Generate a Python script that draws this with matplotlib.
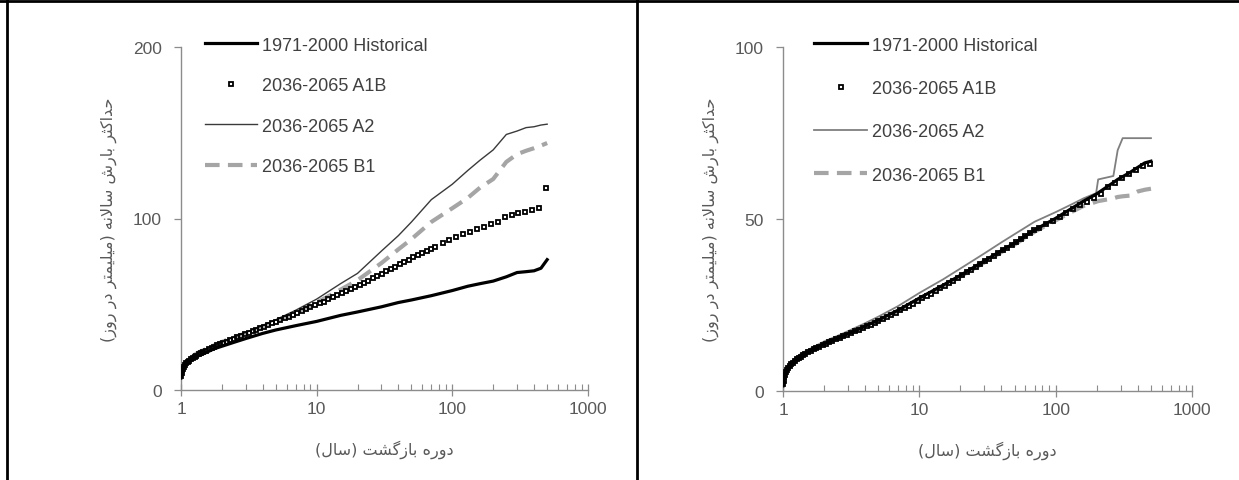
import matplotlib
matplotlib.use("Agg")
import matplotlib.pyplot as plt
from matplotlib.lines import Line2D

# ---- data (return period in years, value in mm/day) ----
t_left = [1.0, 1.02, 1.05, 1.1, 1.2, 1.35, 1.5, 1.75, 2, 2.5, 3, 4, 5, 7, 10, 15, 20,
          30, 40, 50, 70, 100, 130, 160, 200, 250, 300, 350, 400, 450, 500]
hist_left = [7, 10, 13, 15.5, 17.5, 20, 21.5, 24, 25.5, 28, 30, 33, 35, 37.5, 40, 43.5,
             45.5, 48.5, 51, 52.5, 55, 58, 60.5, 62, 63.5, 66, 68.5, 69, 69.5, 71, 76]
a2_left = [9, 12, 15, 17, 19.5, 22, 23.5, 26, 28, 31, 33.5, 37.5, 41, 46.5, 53, 62, 68,
           81, 90, 98, 111, 120, 128, 134, 140, 149, 151, 153, 153.5, 154.5, 155]
b1_left = [9, 12, 15, 17, 19.5, 22, 23.5, 26, 28, 31, 33, 37, 40, 45, 51, 58.5, 64,
           74, 82, 88, 98, 106, 112, 118, 123, 133, 137.5, 139.5, 141, 142.5, 144]

t_right = [1.0, 1.02, 1.05, 1.1, 1.2, 1.35, 1.5, 1.75, 2, 2.5, 3, 4, 5, 7, 10, 15, 20,
           30, 40, 50, 70, 100, 130, 160, 198, 205, 265, 285, 310, 350, 400, 450, 500]
hist_right = [1.5, 4, 5.5, 7, 8.7, 10.2, 11.2, 12.5, 13.7, 15.3, 16.6, 18.8, 20.6, 23.5,
              27, 30.8, 33.6, 37.8, 40.8, 43, 46.8, 50.2, 53, 55.2, 57.2, 57.6, 60.6,
              61.5, 62.3, 63.5, 65, 66.3, 66.8]
a2_right = [2.5, 4.5, 6, 7.5, 9.2, 10.8, 11.8, 13.2, 14.4, 16.0, 17.4, 19.7, 21.6, 24.7,
            28.5, 32.5, 35.6, 40.0, 43.2, 45.6, 49.2, 52.0, 54.2, 56.0, 57.5, 61.5, 62.5,
            70.0, 73.5, 73.5, 73.5, 73.5, 73.5]
b1_right = [1.5, 4, 5.5, 7, 8.7, 10.2, 11.2, 12.5, 13.6, 15.2, 16.5, 18.7, 20.4, 23.3,
            26.7, 30.5, 33.3, 37.4, 40.4, 42.6, 46.3, 49.6, 52.0, 53.8, 55.0, 55.2, 56.0,
            56.4, 56.6, 56.8, 58.0, 58.5, 58.8]

# A1B is drawn as markers only, so it needs more points
t_a1b = [1.0, 1.01, 1.02, 1.03, 1.05, 1.07, 1.09, 1.12, 1.15, 1.18, 1.22, 1.26, 1.3,
         1.35, 1.4, 1.46, 1.52, 1.6, 1.68, 1.76, 1.85, 1.95, 2.05,
         2.17, 2.3, 2.45, 2.6, 2.77, 2.95, 3.15, 3.37, 3.6, 3.85, 4.1,
         4.4, 4.7, 5.0, 5.4, 5.8, 6.2, 6.7, 7.2, 7.8, 8.4, 9.0, 9.7,
         10.5, 11.3, 12.2, 13.2, 14.2, 15.3, 16.5, 17.8, 19.2, 20.7,
         22.3, 24.1, 26.0, 28.0, 30.2, 32.6, 35.2, 38.0, 41.0, 44.2,
         47.7, 51.5, 55.5, 60.0, 64.7, 69.8,
         75, 85, 95, 107, 120, 135, 152, 171, 192, 216, 243, 273, 307, 345, 388, 435, 493]
a1b_left = [8, 10, 11.5, 12.5, 13.5, 14.5, 15.5, 16.5, 17.2, 17.8, 18.6, 19.3, 20.0,
            20.7, 21.4, 22.2, 22.9, 23.7, 24.5, 25.2, 26.0, 26.7, 27.4,
            28.2, 29.0, 29.9, 30.7, 31.5, 32.4, 33.3, 34.2, 35.1, 36.0, 36.9,
            37.9, 38.8, 39.8, 40.8, 41.8, 42.8, 43.9, 44.9, 46.0, 47.1, 48.2, 49.3,
            50.5, 51.6, 52.8, 54.0, 55.2, 56.4, 57.6, 58.8, 60.0, 61.2,
            62.5, 63.8, 65.1, 66.4, 67.8, 69.1, 70.5, 71.8, 73.2, 74.6,
            76.0, 77.4, 78.7, 80.0, 81.3, 82.5,
            83.6, 85.6, 87.3, 89.0, 90.7, 92.2, 93.6, 94.8, 96.6, 98.0, 101.0, 102.0,
            103.0, 104.0, 104.8, 106.0, 117.5]
a1b_right = [2.0, 3.0, 4.0, 4.6, 5.5, 6.1, 6.7, 7.3, 7.8, 8.2, 8.7, 9.2, 9.6,
             10.0, 10.4, 10.8, 11.2, 11.7, 12.1, 12.5, 12.9, 13.3, 13.7,
             14.1, 14.5, 15.0, 15.4, 15.9, 16.3, 16.8, 17.3, 17.8, 18.3, 18.8,
             19.3, 19.8, 20.4, 21.0, 21.6, 22.2, 22.8, 23.5, 24.1, 24.8, 25.4, 26.1,
             26.9, 27.6, 28.3, 29.1, 29.8, 30.5, 31.3, 32.1, 32.9, 33.7,
             34.5, 35.3, 36.1, 36.9, 37.7, 38.5, 39.3, 40.1, 40.9, 41.7,
             42.5, 43.4, 44.2, 45.1, 46.0, 46.8,
             47.5, 48.6, 49.4, 50.5, 51.8, 53.0, 54.0, 55.0, 56.0, 57.4, 59.3, 60.6,
             61.8, 63.0, 64.3, 65.5, 66.0]

labels = ["1971-2000 Historical", "2036-2065 A1B", "2036-2065 A2", "2036-2065 B1"]
xlabel = "دوره بازگشت (سال)"
ylabel = "حداکثر بارش سالانه (میلیمتر در روز)"

# ---- tiny Persian shaper: matplotlib does not join Arabic letters by itself ----
# letter: (isolated, final, initial, medial)
FORMS = {
    'ا': ('\uFE8D', '\uFE8E', None, None),
    'ب': ('\uFE8F', '\uFE90', '\uFE91', '\uFE92'),
    'ت': ('\uFE95', '\uFE96', '\uFE97', '\uFE98'),
    'ث': ('\uFE99', '\uFE9A', '\uFE9B', '\uFE9C'),
    'ح': ('\uFEA1', '\uFEA2', '\uFEA3', '\uFEA4'),
    'د': ('\uFEA9', '\uFEAA', None, None),
    'ر': ('\uFEAD', '\uFEAE', None, None),
    'ز': ('\uFEAF', '\uFEB0', None, None),
    'س': ('\uFEB1', '\uFEB2', '\uFEB3', '\uFEB4'),
    'ش': ('\uFEB5', '\uFEB6', '\uFEB7', '\uFEB8'),
    'ل': ('\uFEDD', '\uFEDE', '\uFEDF', '\uFEE0'),
    'م': ('\uFEE1', '\uFEE2', '\uFEE3', '\uFEE4'),
    'ن': ('\uFEE5', '\uFEE6', '\uFEE7', '\uFEE8'),
    'ه': ('\uFEE9', '\uFEEA', '\uFEEB', '\uFEEC'),
    'و': ('\uFEED', '\uFEEE', None, None),
    'ک': ('\uFB8E', '\uFB8F', '\uFB90', '\uFB91'),
    'گ': ('\uFB92', '\uFB93', '\uFB94', '\uFB95'),
    'ی': ('\uFBFC', '\uFBFD', '\uFBFE', '\uFBFF'),
}
MIRROR = {'(': ')', ')': '('}


def shape_fa(text):
    out = []
    i = 0
    while i < len(text):
        ch = text[i]
        if ch not in FORMS:
            out.append(MIRROR.get(ch, ch))
            i += 1
            continue
        prev = text[i-1] if i > 0 else ''
        nxt = text[i+1] if i + 1 < len(text) else ''
        joins_prev = prev in FORMS and FORMS[prev][2] is not None
        if ch == 'ل' and nxt == 'ا':
            out.append('\uFEFC' if joins_prev else '\uFEFB')
            i += 2
            continue
        joins_next = FORMS[ch][2] is not None and nxt in FORMS
        iso, fin, ini, med = FORMS[ch]
        if joins_prev and joins_next:
            out.append(med)
        elif joins_prev:
            out.append(fin)
        elif joins_next:
            out.append(ini)
        else:
            out.append(iso)
        i += 1
    return ''.join(reversed(out))


plt.rcParams['font.family'] = ['Liberation Sans', 'DejaVu Sans']

W, H = 1239, 481
fig = plt.figure(figsize=(W/100, H/100), dpi=100)

ax1 = fig.add_axes([181/W, (H-391)/H, 407/W, 343/H])
ax2 = fig.add_axes([783/W, (H-392)/H, 409/W, 344/H])

tick_col = '#595959'
spine_col = '#8c8c8c'

# ax, x grid, hist, A2, B1, A1B, ymax, yticks, A2 colour, A2 width, legend x, legend spacing
panels = [
    (ax1, t_left, hist_left, a2_left, b1_left, a1b_left, 200, [0, 100, 200],
     '#3a3a3a', 1.0, 0.058, 1.30),
    (ax2, t_right, hist_right, a2_right, b1_right, a1b_right, 100, [0, 50, 100],
     '#7f7f7f', 1.3, 0.077, 1.46),
]

for ax, t, hist, a2, b1, a1b, ymax, yticks, a2col, a2lw, legx, legsp in panels:
    ax.plot(t, hist, color='black', lw=2.3, label=labels[0], zorder=4)
    ax.plot(t_a1b, a1b, ls='none', marker='s', ms=3.1, mfc='none', mec='black',
            mew=1.3, label=labels[1], zorder=5)
    ax.plot(t, a2, color=a2col, lw=a2lw, label=labels[2], zorder=3)
    ax.plot(t, b1, color='#a5a5a5', lw=3.0, ls=(0, (3.5, 2.0)), label=labels[3], zorder=2)

    ax.set_xscale('log')
    ax.set_xlim(1, 1000)
    ax.set_ylim(0, ymax)
    ax.set_xticks([1, 10, 100, 1000])
    ax.set_xticklabels(['1', '10', '100', '1000'])
    ax.set_yticks(yticks)
    ax.set_yticklabels([str(v) for v in yticks])

    for s in ['top', 'right']:
        ax.spines[s].set_visible(False)
    for s in ['left', 'bottom']:
        ax.spines[s].set_color(spine_col)
        ax.spines[s].set_linewidth(1.0)

    ax.tick_params(axis='x', which='major', direction='inout', length=8, width=0.9,
                   color=spine_col, labelcolor=tick_col, labelsize=12.5, pad=4)
    ax.tick_params(axis='x', which='minor', direction='in', length=4, width=0.8,
                   color=spine_col)
    ax.tick_params(axis='y', which='major', direction='out', length=5, width=0.9,
                   color=spine_col, labelcolor=tick_col, labelsize=12.5, pad=9)
    ax.tick_params(axis='y', which='minor', left=False)

    ax.set_xlabel(shape_fa(xlabel), family=['DejaVu Sans'], fontsize=11.5,
                  color=tick_col, labelpad=17)
    ax.set_ylabel(shape_fa(ylabel), family=['DejaVu Sans'], fontsize=11.5,
                  color=tick_col, labelpad=11)

    ax.legend(loc='upper left', bbox_to_anchor=(legx, 1.03), frameon=False,
              fontsize=13, labelcolor='#404040', handlelength=2.9, handletextpad=0.3,
              labelspacing=legsp, borderpad=0, borderaxespad=0)

# table-like frame around the two panels
frame = dict(color='black', lw=2.0, transform=fig.transFigure)
fig.add_artist(Line2D([0, 1], [1 - 1.5/H, 1 - 1.5/H], **frame))
fig.add_artist(Line2D([7/W, 7/W], [0, 1], **frame))
fig.add_artist(Line2D([637/W, 637/W], [0, 1], **frame))

fig.savefig('out.png', dpi=100)
